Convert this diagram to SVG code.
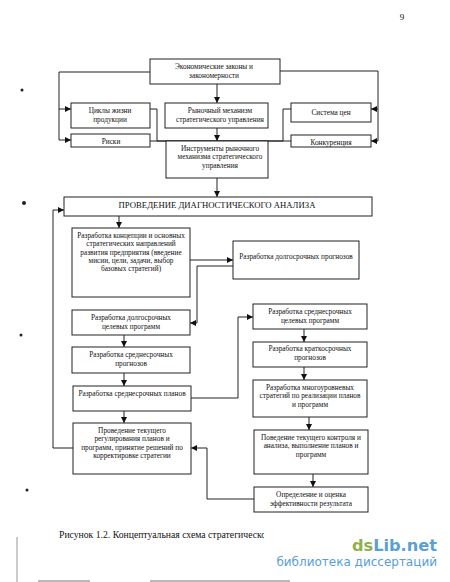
<svg xmlns="http://www.w3.org/2000/svg" width="450" height="582" viewBox="0 0 450 582">
<style>
.b{fill:#fff;stroke:#222;stroke-width:1}
.c{fill:none;stroke:#222;stroke-width:1}
text{font-family:"Liberation Serif","Times New Roman",serif;fill:#111;text-anchor:middle;font-size:7.300px}
.h{font-size:8.700px}
</style>
<defs>
<marker id="a" viewBox="0 0 10 10" refX="10" refY="5" markerWidth="6" markerHeight="6" markerUnits="userSpaceOnUse" orient="auto"><path d="M0 0L10 5L0 10Z" fill="#111"/></marker>
<clipPath id="cap"><rect x="50" y="525" width="214" height="20"/></clipPath>
</defs>
<rect width="450" height="582" fill="#fff"/>
<g id="connectors">
<path class="c" d="M150 72H59V140H71" marker-end="url(#a)"/>
<path class="c" d="M59 109H71" marker-end="url(#a)"/>
<path class="c" d="M280 71H378V141H371" marker-end="url(#a)"/>
<path class="c" d="M378 109H371" marker-end="url(#a)"/>
<path class="c" d="M217 84V103" marker-end="url(#a)"/>
<path class="c" d="M217 128V141" marker-end="url(#a)"/>
<path class="c" d="M150 109H157V141H283V109H291"/>
<path class="c" d="M150 141H291"/>
<path class="c" d="M217 178V197" marker-end="url(#a)"/>
<path class="c" d="M73 448H53V210H64" marker-end="url(#a)"/>
<path class="c" d="M119 216V228" marker-end="url(#a)"/>
<path class="c" d="M190 260H233" marker-end="url(#a)"/>
<path class="c" d="M233 266H197V323H190" marker-end="url(#a)"/>
<path class="c" d="M124 335V347" marker-end="url(#a)"/>
<path class="c" d="M124 373V386" marker-end="url(#a)"/>
<path class="c" d="M124 411V423" marker-end="url(#a)"/>
<path class="c" d="M191 398H238V317H253" marker-end="url(#a)"/>
<path class="c" d="M304 329V342" marker-end="url(#a)"/>
<path class="c" d="M304 367V380" marker-end="url(#a)"/>
<path class="c" d="M309 417V430" marker-end="url(#a)"/>
<path class="c" d="M313 474V487" marker-end="url(#a)"/>
<path class="c" d="M254 499H207V448H191" marker-end="url(#a)"/>
</g>
<g id="n-laws"><rect class="b" x="150" y="59" width="130" height="25"/><text x="214" y="68.500">Экономические законы и</text><text x="214" y="77.500">закономерности</text></g>
<g id="n-cycles"><rect class="b" x="71" y="103" width="79" height="25"/><text x="110" y="112.500">Циклы жизни</text><text x="110" y="121.500">продукции</text></g>
<g id="n-risks"><rect class="b" x="71" y="134" width="79" height="13"/><text x="111" y="144">Риски</text></g>
<g id="n-market"><rect class="b" x="165" y="103" width="103" height="25"/><text x="220" y="112.500">Рыночный механизм</text><text x="220" y="121.500">стратегического управления</text></g>
<g id="n-prices"><rect class="b" x="291" y="103" width="80" height="19"/><text x="331" y="114.500">Система цен</text></g>
<g id="n-compet"><rect class="b" x="291" y="135" width="80" height="12"/><text x="331" y="145">Конкуренция</text></g>
<g id="n-tools"><rect class="b" x="166" y="141" width="102" height="37"/><text x="220" y="150.500">Инструменты рыночного</text><text x="220" y="159">механизма стратегического</text><text x="220" y="167.500">управления</text></g>
<g id="n-diag"><rect class="b" x="64" y="197" width="308" height="19"/><text class="h" x="217" y="208">ПРОВЕДЕНИЕ ДИАГНОСТИЧЕСКОГО АНАЛИЗА</text></g>
<g id="n-concept"><rect class="b" x="72" y="228" width="118" height="69"/><text x="131" y="237.500">Разработка концепции и основных</text><text x="131" y="246">стратегических направлений</text><text x="131" y="254.500">развития предприятия (введение</text><text x="131" y="262.500">мисии, цели, задачи, выбор</text><text x="131" y="270.500">базовых стратегий)</text></g>
<g id="n-longfc"><rect class="b" x="233" y="241" width="126" height="38"/><text x="296" y="259">Разработка долгосрочных прогнозов</text></g>
<g id="n-longprog"><rect class="b" x="72" y="310" width="118" height="25"/><text x="131" y="319.500">Разработка долгосрочных</text><text x="131" y="328.500">целевых программ</text></g>
<g id="n-midprog"><rect class="b" x="253" y="304" width="114" height="25"/><text x="310" y="313.500">Разработка среднесрочных</text><text x="310" y="322.500">целевых программ</text></g>
<g id="n-midfc"><rect class="b" x="72" y="347" width="118" height="26"/><text x="131" y="356.500">Разработка среднесрочных</text><text x="131" y="365.500">прогнозов</text></g>
<g id="n-shortfc"><rect class="b" x="253" y="342" width="114" height="25"/><text x="310" y="351">Разработка краткосрочных</text><text x="310" y="359.500">прогнозов</text></g>
<g id="n-midplan"><rect class="b" x="73" y="386" width="118" height="25"/><text x="132" y="395.500">Разработка среднесрочных планов</text></g>
<g id="n-multi"><rect class="b" x="253" y="380" width="114" height="37"/><text x="310" y="389.500">Разработка многоуровневых</text><text x="310" y="398">стратегий по реализации планов</text><text x="310" y="406.500">и программ</text></g>
<g id="n-reg"><rect class="b" x="73" y="423" width="118" height="51"/><text x="132" y="432.500">Проведение текущего</text><text x="132" y="441">регулирования планов и</text><text x="132" y="449.500">программ, принятие решений по</text><text x="132" y="458">корректировке стратегии</text></g>
<g id="n-control"><rect class="b" x="254" y="430" width="114" height="44"/><text x="311" y="439.500">Поведение текущего контроля и</text><text x="311" y="448">анализа, выполнение планов и</text><text x="311" y="456.500">программ</text></g>
<g id="n-eval"><rect class="b" x="254" y="487" width="114" height="25"/><text x="311" y="496.500">Определение и оценка</text><text x="311" y="505.500">эффективности результата</text></g>
<text x="402" y="20" style="font-size:9px">9</text>
<g clip-path="url(#cap)"><text x="59" y="538" style="font-size:9.700px;text-anchor:start">Рисунок 1.2. Концептуальная схема стратегического</text></g>
<text x="437" y="551" style="font-family:'DejaVu Sans',sans-serif;font-size:16.200px;font-weight:bold;text-anchor:end;fill:#5aa0d2"><tspan fill="#8fb04a">ds</tspan>Lib.net</text>
<text x="437" y="566" style="font-family:'DejaVu Sans',sans-serif;font-size:12px;text-anchor:end;fill:#5aa0d2">библиотека диссертаций</text>
<circle cx="22" cy="90" r="1.500" fill="#222"/>
<circle cx="24" cy="203" r="2" fill="#222"/>
<circle cx="21" cy="335" r="1.500" fill="#222"/>
<circle cx="27" cy="490" r="1.500" fill="#222"/>
<path d="M17 537V582" stroke="#999" stroke-width="1"/>
<path d="M38 581H90M150 581H290" stroke="#777" stroke-width="1"/>
</svg>
